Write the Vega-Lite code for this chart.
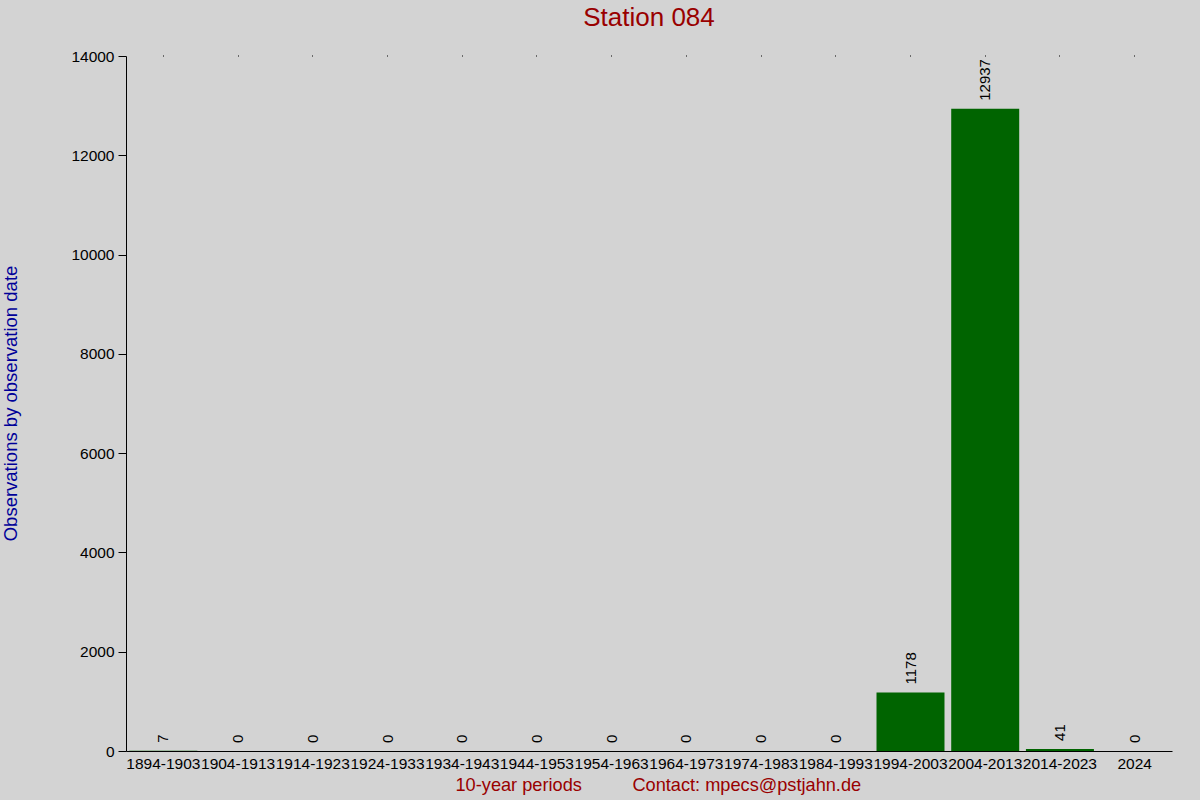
{
  "$schema": "https://vega.github.io/schema/vega-lite/v6.json",
  "width": 1046,
  "height": 695,
  "autosize": "none",
  "padding": {"left": 126, "top": 56, "right": 28, "bottom": 49},
  "background": "#d3d3d3",
  "config": {
    "view": {"stroke": null},
    "font": "Liberation Sans",
    "axis": {"grid": false, "domainColor": "#000000", "tickColor": "#000000", "labelColor": "#000000", "labelFont": "Liberation Sans", "titleFont": "Liberation Sans", "titleFontWeight": "normal"}
  },
  "title": {"text": "Station 084", "fontSize": 26, "fontWeight": "normal", "color": "#990000", "offset": 18, "anchor": "middle"},
  "data": {
    "values": [
      {"period": "1894-1903", "count": 7},
      {"period": "1904-1913", "count": 0},
      {"period": "1914-1923", "count": 0},
      {"period": "1924-1933", "count": 0},
      {"period": "1934-1943", "count": 0},
      {"period": "1944-1953", "count": 0},
      {"period": "1954-1963", "count": 0},
      {"period": "1964-1973", "count": 0},
      {"period": "1974-1983", "count": 0},
      {"period": "1984-1993", "count": 0},
      {"period": "1994-2003", "count": 1178},
      {"period": "2004-2013", "count": 12937},
      {"period": "2014-2023", "count": 41},
      {"period": "2024", "count": 0}
    ]
  },
  "layer": [
    {
      "mark": {"type": "bar", "color": "#006400"},
      "encoding": {
        "x": {
          "field": "period", "type": "nominal", "sort": null,
          "scale": {"paddingInner": 0.09, "paddingOuter": 0.045},
          "axis": {
            "orient": "bottom", "labelAngle": 0, "labelFontSize": 15.5, "labelPadding": 5,
            "labelOverlap": false, "labelBound": false, "labelLimit": 300, "ticks": false,
            "title": "10-year periods\u00a0\u00a0\u00a0\u00a0\u00a0\u00a0\u00a0\u00a0\u00a0\u00a0Contact: mpecs@pstjahn.de",
            "titleFontSize": 18.2, "titleColor": "#990000", "titlePadding": 5,
            "titleAnchor": "start", "titleAlign": "left", "titleX": 329
          }
        },
        "y": {
          "field": "count", "type": "quantitative",
          "scale": {"domain": [0, 14000], "nice": false},
          "axis": {
            "values": [0, 2000, 4000, 6000, 8000, 10000, 12000, 14000], "format": "d",
            "labelFontSize": 15.5, "tickSize": 8, "labelPadding": 4,
            "title": "Observations by observation date", "titleFontSize": 18.5,
            "titleColor": "#000099", "titleX": -106, "titleY": 347
          }
        }
      }
    },
    {
      "mark": {"type": "text", "angle": -90, "align": "left", "baseline": "middle", "dx": 8, "fontSize": 15, "color": "#000000"},
      "encoding": {
        "x": {
          "field": "period", "type": "nominal", "sort": null,
          "axis": {"orient": "top", "labels": false, "domain": false, "ticks": true, "tickSize": 1, "title": null}
        },
        "y": {"field": "count", "type": "quantitative"},
        "text": {"field": "count", "type": "quantitative"}
      }
    }
  ],
  "resolve": {"axis": {"x": "independent", "y": "shared"}}
}
